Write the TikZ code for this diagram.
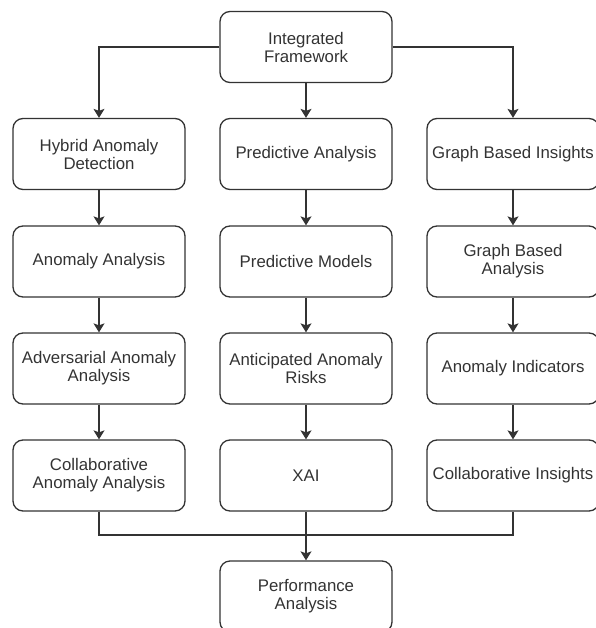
\documentclass[tikz,border=0pt]{standalone}
\usepackage{fontspec}
\setmainfont{Liberation Sans}
\usetikzlibrary{arrows.meta}
\definecolor{ln}{HTML}{333333}
\begin{document}
\begin{tikzpicture}[x=1pt,y=-1pt,
  box/.style={draw=ln, line width=1.3pt, rounded corners=10pt, minimum width=172pt, minimum height=71pt, align=center, font=\fontsize{16.8}{18}\selectfont, text=ln, inner sep=0pt},
  arr/.style={draw=ln, line width=1.3pt, -{Stealth[length=9pt,width=11pt,inset=2pt]}},
  conn/.style={draw=ln, line width=1.3pt}]
\useasboundingbox (0,0) rectangle (595,628);
\node[box] (top) at (306,47) {Integrated\\Framework};
\node[box] (h1) at (99,154) {Hybrid Anomaly\\Detection};
\node[box] (p1) at (306,154) {Predictive Analysis};
\node[box] (g1) at (513,154) {Graph Based Insights};
\node[box] (h2) at (99,261.5) {Anomaly Analysis};
\node[box] (p2) at (306,261.5) {Predictive Models};
\node[box] (g2) at (513,261.5) {Graph Based\\Analysis};
\node[box] (h3) at (99,368.5) {Adversarial Anomaly\\Analysis};
\node[box] (p3) at (306,368.5) {Anticipated Anomaly\\Risks};
\node[box] (g3) at (513,368.5) {Anomaly Indicators};
\node[box] (h4) at (99,475.5) {Collaborative\\Anomaly Analysis};
\node[box] (p4) at (306,475.5) {XAI};
\node[box] (g4) at (513,475.5) {Collaborative Insights};
\node[box] (pf) at (306,596.5) {Performance\\Analysis};
\coordinate (m) at (306,535);
\draw[arr] (top.west) -| (h1.north);
\draw[arr] (top.east) -| (g1.north);
\draw[arr] (top.south) -- (p1.north);
\foreach \c in {h,p,g}{
  \draw[arr] (\c1.south) -- (\c2.north);
  \draw[arr] (\c2.south) -- (\c3.north);
  \draw[arr] (\c3.south) -- (\c4.north);
}
\draw[conn] (h4.south) |- (m);
\draw[conn] (g4.south) |- (m);
\draw[arr] (p4.south) -- (pf.north);
\end{tikzpicture}
\end{document}
